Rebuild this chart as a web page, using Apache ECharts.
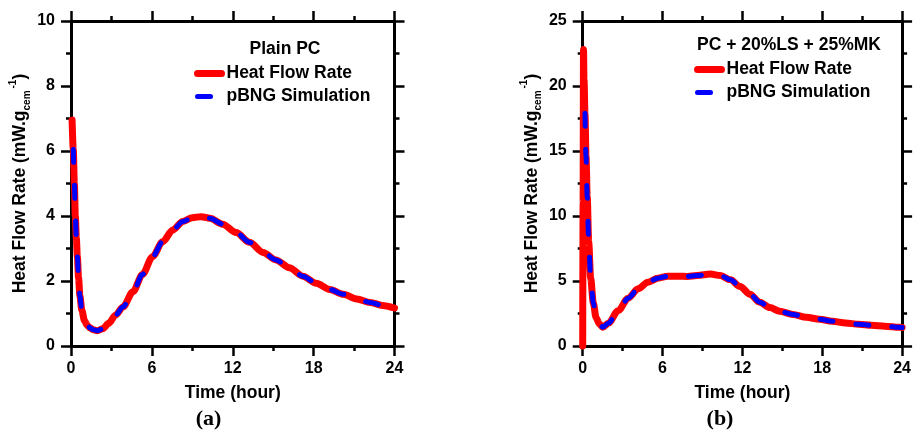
<!DOCTYPE html>
<html>
<head>
<meta charset="utf-8">
<script src="https://cdn.jsdelivr.net/npm/echarts@6/dist/echarts.min.js"></script>
<style>
html,body{margin:0;padding:0;background:#fff;}
#chart{width:914px;height:433px;}
</style>
</head>
<body>
<div id="chart"></div>
<script>
// ---- data ----
const xTicks = [0, 6, 12, 18, 24];
const yTicksA = [0, 2, 4, 6, 8, 10];
const yTicksB = [0, 5, 10, 15, 20, 25];

const seriesNames = ['Heat Flow Rate', 'pBNG Simulation'];
const titleA = 'Plain PC';
const titleB = 'PC + 20%LS + 25%MK';

// (a) Plain PC
const timeA = [0.08, 0.17, 0.25, 0.32, 0.4, 0.47, 0.56, 0.66, 0.8, 1.0, 1.2, 1.4, 1.65, 1.95, 2.35, 2.8, 3.3, 3.85, 4.6, 5.3, 6.05, 6.8, 7.55, 8.3, 9.0, 9.65, 10.3, 11.25, 12.25, 13.25, 14.25, 15.2, 16.2, 17.2, 18.2, 19.2, 20.2, 21.2, 22.2, 23.1, 24];
const heatA = [6.95, 6.05, 5.0, 4.0, 3.3, 2.75, 2.1, 1.55, 1.1, 0.78, 0.64, 0.56, 0.5, 0.47, 0.53, 0.7, 0.95, 1.2, 1.67, 2.2, 2.75, 3.21, 3.57, 3.83, 3.95, 3.98, 3.93, 3.75, 3.49, 3.19, 2.88, 2.65, 2.41, 2.15, 1.93, 1.74, 1.59, 1.45, 1.34, 1.25, 1.17];
const simTimeA = [0.17, 0.25, 0.32, 0.4, 0.47, 0.56, 0.66, 0.8, 1.0, 1.2, 1.4, 1.65, 1.95, 2.35, 2.8, 3.3, 3.85, 4.6, 5.3, 6.05, 6.8, 7.55, 8.3, 9.0, 9.65, 10.3, 11.25, 12.25, 13.25, 14.25, 15.2, 16.2, 17.2, 18.2, 19.2, 20.2, 21.2, 22.2, 23.1, 24];
const simA = [6.05, 5.0, 4.0, 3.3, 2.75, 2.1, 1.55, 1.1, 0.78, 0.64, 0.56, 0.5, 0.47, 0.53, 0.7, 0.95, 1.2, 1.67, 2.2, 2.75, 3.21, 3.57, 3.83, 3.95, 3.98, 3.93, 3.75, 3.49, 3.19, 2.88, 2.65, 2.41, 2.15, 1.93, 1.74, 1.59, 1.45, 1.34, 1.25, 1.17];

// (b) PC + 20%LS + 25%MK
const timeB = [0, 0.03, 0.06, 0.1, 0.17, 0.25, 0.34, 0.45, 0.6, 0.8, 1.0, 1.25, 1.5, 1.93, 2.67, 3.42, 4.16, 4.9, 5.64, 6.39, 7.13, 7.87, 8.6, 9.6, 10.35, 11.1, 11.83, 12.57, 13.3, 14.06, 14.8, 15.8, 16.8, 17.8, 18.76, 19.75, 20.74, 21.7, 22.7, 23.8, 24];
const heatB = [0, 11, 22.8, 20.5, 17.9, 14.6, 11.5, 8.0, 5.2, 3.3, 2.2, 1.7, 1.45, 1.75, 2.72, 3.68, 4.4, 4.91, 5.22, 5.37, 5.37, 5.35, 5.42, 5.53, 5.42, 5.09, 4.58, 3.98, 3.37, 2.96, 2.67, 2.42, 2.21, 2.06, 1.9, 1.77, 1.67, 1.59, 1.52, 1.44, 1.42];
const simTimeB = [0.17, 0.25, 0.34, 0.45, 0.6, 0.8, 1.0, 1.25, 1.5, 1.93, 2.67, 3.42, 4.16, 4.9, 5.64, 6.39, 7.13, 7.87, 8.6, 9.6, 10.35, 11.1, 11.83, 12.57, 13.3, 14.06, 14.8, 15.8, 16.8, 17.8, 18.76, 19.75, 20.74, 21.7, 22.7, 23.8, 24];
const simB = [17.9, 14.6, 11.5, 8.0, 5.2, 3.3, 2.2, 1.7, 1.45, 1.75, 2.72, 3.68, 4.4, 4.91, 5.22, 5.37, 5.37, 5.35, 5.42, 5.53, 5.42, 5.09, 4.58, 3.98, 3.37, 2.96, 2.67, 2.42, 2.21, 2.06, 1.9, 1.77, 1.67, 1.59, 1.52, 1.44, 1.42];

// ---- chart ----
const zip = (xs, ys) => xs.map((x, i) => [x, ys[i]]);
const SANS = '"Liberation Sans", Arial, sans-serif';
const SERIF = '"Liberation Serif", "Times New Roman", serif';
const BLACK = '#000';

function axisBase(ticks, gridIndex, position, showLabel) {
  return {
    type: 'value', gridIndex, position,
    min: ticks[0], max: ticks[ticks.length - 1], interval: ticks[1] - ticks[0],
    axisLine: { show: true, onZero: false, lineStyle: { color: BLACK, width: 3 } },
    axisTick: { show: true, inside: false, length: 10, lineStyle: { color: BLACK, width: 2.5 } },
    minorTick: { show: true, splitNumber: 2, length: 5, lineStyle: { color: BLACK, width: 2.5 } },
    splitLine: { show: false },
    minorSplitLine: { show: false },
    axisLabel: { show: showLabel, color: BLACK, fontSize: 16, fontWeight: 'bold', fontFamily: SANS, margin: 15 }
  };
}
const nameStyle = { color: BLACK, fontSize: 17.5, fontWeight: 'bold', fontFamily: SANS };
const yNameStyle = {
  color: BLACK, fontSize: 17.5, fontWeight: 'bold', fontFamily: SANS, lineHeight: 24,
  rich: {
    m: { color: BLACK, fontSize: 17.5, fontWeight: 'bold', fontFamily: SANS, lineHeight: 24 },
    sub: { color: BLACK, fontSize: 10, fontWeight: 'bold', fontFamily: SANS, lineHeight: 10, verticalAlign: 'bottom' },
    sup: { color: BLACK, fontSize: 10, fontWeight: 'bold', fontFamily: SANS, lineHeight: 10, verticalAlign: 'top', padding: [0, 0, 0, 2] }
  }
};
const yName = '{m|Heat Flow Rate (mW.g}{sub|cem}{sup|-1}{m|)}';

function xBottom(g) {
  return Object.assign(axisBase(xTicks, g, 'bottom', true), {
    name: 'Time (hour)', nameLocation: 'middle', nameGap: 38, nameTextStyle: nameStyle
  });
}
function xTop(g) { return axisBase(xTicks, g, 'top', false); }
function yLeft(ticks, g) {
  const a = axisBase(ticks, g, 'left', true);
  a.axisLabel.margin = 16;
  return Object.assign(a, {
    name: yName, nameLocation: 'middle', nameGap: 39, nameRotate: 90, nameTextStyle: yNameStyle
  });
}
function yRight(ticks, g) { return axisBase(ticks, g, 'right', false); }

const redLine = { color: '#ff0000', width: 7, cap: 'round', join: 'round' };
const blueLine = { color: '#0000ff', width: 5, type: [13, 23], cap: 'round', join: 'round' };

function lineSeries(name, data, xi, yi, style) {
  return {
    type: 'line', name, data, xAxisIndex: xi, yAxisIndex: yi,
    symbol: 'none', showSymbol: false, smooth: 0.3, smoothMonotone: 'x', clip: false,
    lineStyle: style, itemStyle: { color: style.color }, emphasis: { disabled: true }, animation: false
  };
}

const legendBase = {
  orient: 'vertical', itemWidth: 24, itemHeight: 23, itemGap: 0, padding: 0,
  itemStyle: { color: 'rgba(0,0,0,0)', borderWidth: 0, opacity: 0 },
  textStyle: { color: BLACK, fontSize: 17.5, fontWeight: 'bold', fontFamily: SANS, lineHeight: 23 },
  data: [
    { name: seriesNames[0], lineStyle: { color: redLine.color, width: redLine.width, type: 'solid', cap: 'round' } },
    { name: seriesNames[1], lineStyle: { color: blueLine.color, width: blueLine.width, type: blueLine.type, cap: 'round' } }
  ],
  selectedMode: false
};

const option = {
  animation: false,
  backgroundColor: '#fff',
  grid: [
    { left: 71, right: 914 - 394.5, top: 21, bottom: 433 - 346, containLabel: false },
    { left: 582.7, right: 914 - 905.5, top: 21, bottom: 433 - 346, containLabel: false }
  ],
  xAxis: [xBottom(0), xTop(0), xBottom(1), xTop(1)],
  yAxis: [yLeft(yTicksA, 0), yRight(yTicksA, 0), yLeft(yTicksB, 1), yRight(yTicksB, 1)],
  legend: [
    Object.assign({}, legendBase, { left: 194, top: 62 }),
    Object.assign({}, legendBase, { left: 694, top: 58 })
  ],
  graphic: [
    { type: 'text', style: { text: titleA, x: 285, y: 49, align: 'center', verticalAlign: 'middle', textAlign: 'center', textVerticalAlign: 'middle', font: 'bold 17.5px ' + SANS, fill: BLACK } },
    { type: 'text', style: { text: titleB, x: 789, y: 45, align: 'center', verticalAlign: 'middle', textAlign: 'center', textVerticalAlign: 'middle', font: 'bold 17.5px ' + SANS, fill: BLACK } },
    { type: 'text', style: { text: '(a)', x: 208.5, y: 419, align: 'center', verticalAlign: 'middle', textAlign: 'center', textVerticalAlign: 'middle', font: 'bold 22px ' + SERIF, fill: BLACK } },
    { type: 'text', style: { text: '(b)', x: 720, y: 419, align: 'center', verticalAlign: 'middle', textAlign: 'center', textVerticalAlign: 'middle', font: 'bold 22px ' + SERIF, fill: BLACK } }
  ],
  series: [
    lineSeries(seriesNames[0], zip(timeA, heatA), 0, 0, redLine),
    lineSeries(seriesNames[1], zip(simTimeA, simA), 0, 0, blueLine),
    lineSeries(seriesNames[0], zip(timeB, heatB), 2, 2, redLine),
    lineSeries(seriesNames[1], zip(simTimeB, simB), 2, 2, blueLine)
  ]
};

const chart = echarts.init(document.getElementById('chart'), null, { renderer: 'canvas' });
chart.setOption(option);
</script>
</body>
</html>
